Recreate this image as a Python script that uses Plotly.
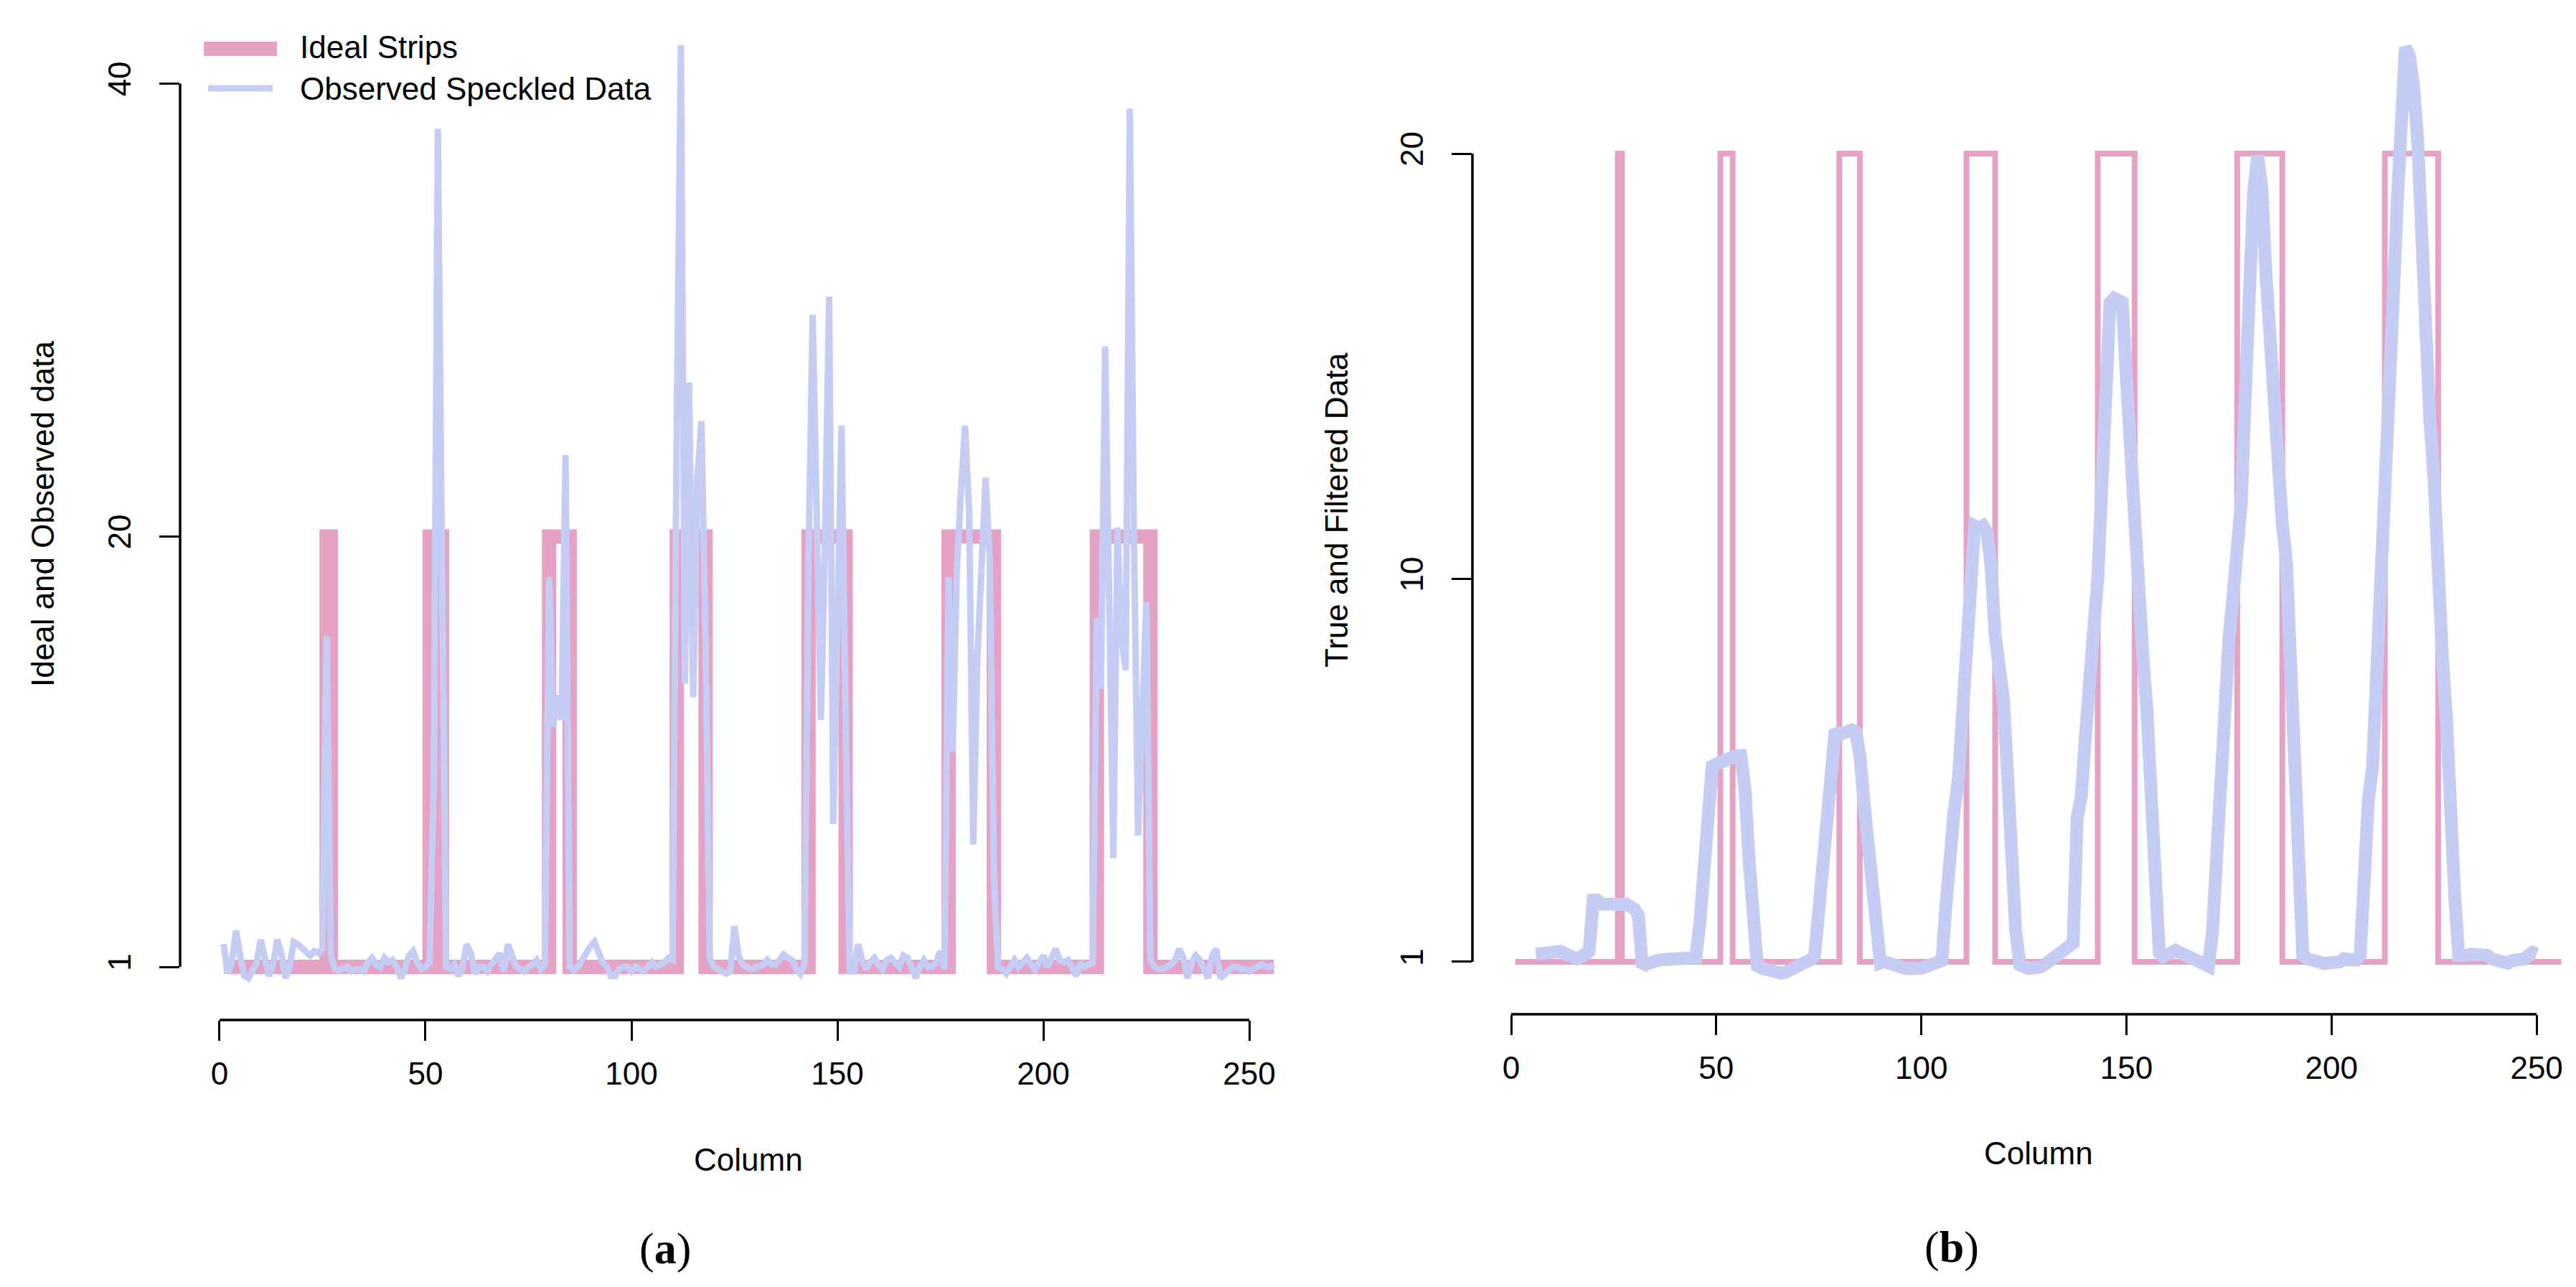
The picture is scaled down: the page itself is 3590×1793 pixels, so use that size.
import plotly.graph_objects as go

# ideal strips (step breakpoints, drawn as a step line)
ideal_x = [1, 26, 27, 51, 54, 80, 85, 111, 118, 143, 152, 177, 188, 213, 226, 256]
ideal_y = [1, 20, 1, 20, 1, 20, 1, 20, 1, 20, 1, 20, 1, 20, 1, 1]

# observed speckled data, columns 1..256
obs_x = list(range(1, 257))
obs_y = [
    2.0, 0.7, 1.2, 2.6, 1.5, 0.6, 0.5, 0.9, 1.2, 2.2,
    1.5, 0.6, 1.1, 2.2, 1.6, 0.5, 1.0, 2.1, 2.0, 1.8,
    1.6, 1.5, 1.7, 1.6, 1.8, 15.6, 1.5, 0.9, 0.85, 0.9,
    1.0, 0.8, 0.9, 0.9, 0.8, 1.2, 1.4, 1.1, 1.0, 1.4,
    1.2, 1.3, 1.0, 0.5, 0.9, 1.5, 1.7, 1.2, 0.9, 1.0,
    1.2, 9.2, 38.0, 18.8, 1.0, 0.9, 1.1, 0.6, 1.0, 2.0,
    1.6, 0.7, 1.0, 1.0, 0.8, 1.1, 1.4, 1.6, 0.8, 2.0,
    1.5, 1.0, 0.9, 0.8, 1.0, 1.1, 1.3, 0.9, 1.1, 18.2,
    11.6, 13.0, 11.9, 23.6, 1.0, 0.85, 1.0, 1.3, 1.7, 1.9,
    2.1, 1.6, 1.2, 1.0, 0.6, 0.6, 0.9, 1.0, 1.0, 0.8,
    1.0, 0.9, 0.8, 1.0, 1.2, 1.0, 1.1, 1.2, 1.4, 1.3,
    25.0, 41.7, 13.5, 26.8, 12.9, 22.6, 25.1, 15.2, 1.4, 1.0,
    0.9, 0.8, 0.7, 0.8, 2.8, 1.5, 1.1, 1.0, 0.9, 0.95,
    1.0, 1.1, 1.3, 1.1, 1.1, 1.3, 1.55, 1.4, 1.3, 0.9,
    0.7, 1.1, 19.0, 29.8, 21.0, 11.9, 20.0, 30.6, 7.3, 15.0,
    24.9, 12.0, 0.8, 0.8, 2.0, 1.3, 0.9, 1.2, 1.4, 1.1,
    0.9, 1.3, 1.4, 1.2, 1.0, 1.5, 1.4, 1.0, 0.5, 1.0,
    1.3, 1.0, 1.0, 1.2, 1.7, 0.9, 18.2, 10.5, 18.5, 22.0,
    24.9, 21.0, 6.4, 14.7, 19.0, 22.6, 19.0, 5.0, 1.0, 0.9,
    0.7, 1.0, 1.3, 1.0, 1.2, 1.4, 1.1, 0.9, 1.2, 1.5,
    1.0, 1.4, 1.8, 1.3, 1.2, 1.3, 0.9, 0.6, 1.2, 1.0,
    1.1, 1.2, 16.4, 13.3, 28.4, 15.0, 5.8, 20.4, 15.5, 14.1,
    38.9, 20.0, 6.8, 12.0, 17.1, 1.3, 1.0, 0.9, 0.9, 1.0,
    1.1, 1.3, 1.8, 1.4, 0.5, 1.2, 1.5, 1.3, 0.9, 0.5,
    1.5, 1.8, 0.5, 0.7, 0.8, 1.0, 1.0, 0.9, 0.9, 0.8,
    0.9, 1.0, 1.1, 1.0, 1.0, 1.1,
]

# filtered data, columns 6..250
filt_x = list(range(6, 251))
filt_y = [
    1.18, 1.2, 1.22, 1.25, 1.27, 1.26, 1.25, 1.2, 1.15, 1.1,
    1.07, 1.12, 1.2, 1.25, 2.45, 2.45, 2.36, 2.35, 2.33, 2.3,
    2.36, 2.35, 2.36, 2.3, 2.25, 2.1, 0.88, 0.95, 1.0, 1.02,
    1.04, 1.05, 1.05, 1.04, 1.03, 1.04, 1.04, 1.05, 1.07, 1.1,
    1.9, 3.4, 5.0, 5.6, 5.65, 5.7, 5.75, 5.8, 5.8, 5.85,
    5.85, 5.05, 3.4, 1.74, 0.9, 0.85, 0.82, 0.8, 0.78, 0.75,
    0.73, 0.76, 0.8, 0.85, 0.93, 0.97, 1.0, 1.05, 1.15, 2.3,
    3.65, 5.05, 6.16, 6.45, 6.34, 6.4, 6.43, 6.45, 6.4, 5.87,
    4.76, 3.65, 2.47, 1.37, 0.97, 1.0, 0.97, 0.9, 0.85, 0.85,
    0.85, 0.84, 0.82, 0.84, 0.85, 0.88, 0.93, 0.97, 1.0, 1.03,
    2.33, 3.95, 4.54, 5.28, 6.9, 8.8, 10.9, 11.25, 11.2, 11.25,
    11.1, 10.3, 8.67, 7.93, 7.19, 5.42, 3.36, 1.74, 0.93, 0.85,
    0.85, 0.85, 0.85, 0.88, 0.93, 1.0, 1.07, 1.15, 1.22, 1.27,
    1.29, 1.44, 4.39, 4.9, 6.3, 8.2, 8.8, 10.0, 12.8, 15.3,
    16.5, 16.6, 16.55, 16.5, 14.7, 12.8, 11.5, 9.85, 8.2, 6.9,
    4.7, 2.18, 1.22, 1.12, 1.18, 1.22, 1.27, 1.22, 1.18, 1.15,
    1.12, 1.0, 0.97, 0.93, 0.9, 1.74, 3.5, 5.87, 7.78, 8.6,
    9.6, 10.6, 11.8, 14.4, 17.1, 19.1, 19.95, 19.2, 17.2, 15.6,
    13.5, 12.35, 11.3, 10.4, 8.4, 5.87, 3.36, 1.15, 1.07, 1.07,
    1.03, 1.0, 0.96, 0.96, 0.96, 1.0, 1.0, 1.07, 1.07, 1.04,
    1.04, 1.15, 3.65, 4.83, 5.57, 8.1, 10.7, 12.65, 14.1, 16.5,
    18.8, 21.5, 22.5, 22.3, 21.6, 20.3, 17.4, 15.0, 13.7, 12.35,
    9.55, 8.2, 6.75, 3.8, 2.6, 1.15, 1.12, 1.15, 1.18, 1.18,
    1.22, 1.19, 1.15, 1.07, 1.03, 1.0, 1.0, 0.97, 1.03, 1.04,
    1.07, 1.07, 1.15, 1.22, 1.18,
]

x_ticks = [0, 50, 100, 150, 200, 250]
left_yticks = [1, 20, 40]
right_yticks = [1, 10, 20]

PINK = "#E5A2C5"
BLUE = "#C6CDF5"
W, H = 3590, 1793


def px(x):
    return x / W


def py(y):
    return 1 - y / H


fig = go.Figure()

# panel (a)
fig.add_trace(go.Scatter(x=ideal_x, y=ideal_y, mode="lines", line_shape="hv",
                         line=dict(color=PINK, width=20), name="Ideal Strips",
                         xaxis="x", yaxis="y"))
fig.add_trace(go.Scatter(x=obs_x, y=obs_y, mode="lines",
                         line=dict(color=BLUE, width=9), name="Observed Speckled Data",
                         xaxis="x", yaxis="y"))

# panel (b)
fig.add_trace(go.Scatter(x=ideal_x, y=ideal_y, mode="lines", line_shape="hv",
                         line=dict(color=PINK, width=8), name="True",
                         xaxis="x2", yaxis="y2"))
fig.add_trace(go.Scatter(x=filt_x, y=filt_y, mode="lines",
                         line=dict(color=BLUE, width=18), name="Filtered",
                         xaxis="x2", yaxis="y2"))

axis_common = dict(showline=False, showgrid=False, zeroline=False, ticks="outside",
                   ticklen=28, tickwidth=3, tickcolor="black",
                   tickfont=dict(size=44, color="black"))

fig.update_layout(
    width=W, height=H,
    margin=dict(l=0, r=0, t=0, b=0),
    paper_bgcolor="white", plot_bgcolor="white",
    showlegend=False,
    font=dict(family="Liberation Sans", size=44, color="black"),
    xaxis=dict(domain=[px(243), px(1826)], range=[-9.58, 266.2], anchor="y",
               tickvals=x_ticks, ticklabelstandoff=8, **axis_common),
    yaxis=dict(domain=[py(1413), py(5)], range=[-1.345, 43.28], anchor="x",
               tickvals=left_yticks, tickangle=-90, ticklabelstandoff=22, **axis_common),
    xaxis2=dict(domain=[px(2044), 1.0], range=[-9.45, 261.0], anchor="y2",
                tickvals=x_ticks, ticklabelstandoff=8, **axis_common),
    yaxis2=dict(domain=[py(1405), py(1)], range=[-0.232, 23.46], anchor="x2",
                tickvals=right_yticks, tickangle=-90, ticklabelstandoff=22, **axis_common),
)

# R-style axis lines spanning only the tick range
line_style = dict(color="black", width=3.5)
fig.add_shape(type="line", xref="x", yref="y domain", x0=0, x1=250, y0=0, y1=0, line=line_style)
fig.add_shape(type="line", xref="x domain", yref="y", x0=0, x1=0, y0=1, y1=40, line=line_style)
fig.add_shape(type="line", xref="x2", yref="y2 domain", x0=0, x1=250, y0=0, y1=0, line=line_style)
fig.add_shape(type="line", xref="x2 domain", yref="y2", x0=0, x1=0, y0=1, y1=20, line=line_style)

# legend for panel (a)
fig.add_shape(type="line", xref="paper", yref="paper", x0=px(276), x1=px(378),
              y0=py(60), y1=py(60), line=dict(color=PINK, width=20))
fig.add_shape(type="line", xref="paper", yref="paper", x0=px(282), x1=px(372),
              y0=py(115), y1=py(115), line=dict(color=BLUE, width=9))

annots = [
    dict(text="Ideal Strips", x=px(408), y=py(57), xanchor="left", yanchor="middle"),
    dict(text="Observed Speckled Data", x=px(408), y=py(116), xanchor="left", yanchor="middle"),
    dict(text="Ideal and Observed data", x=px(52), y=py(708), textangle=-90,
         xanchor="center", yanchor="middle"),
    dict(text="True and Filtered Data", x=px(1855), y=py(703), textangle=-90,
         xanchor="center", yanchor="middle"),
    dict(text="Column", x=px(1035), y=py(1607), xanchor="center", yanchor="middle"),
    dict(text="Column", x=px(2833), y=py(1598), xanchor="center", yanchor="middle"),
    dict(text="(<b>a</b>)", x=px(919), y=py(1731), xanchor="center", yanchor="middle",
         font=dict(family="Liberation Serif", size=62, color="black")),
    dict(text="(<b>b</b>)", x=px(2712), y=py(1729), xanchor="center", yanchor="middle",
         font=dict(family="Liberation Serif", size=62, color="black")),
]
for a in annots:
    fig.add_annotation(xref="paper", yref="paper", showarrow=False, **a)

fig.write_html("out.html")
